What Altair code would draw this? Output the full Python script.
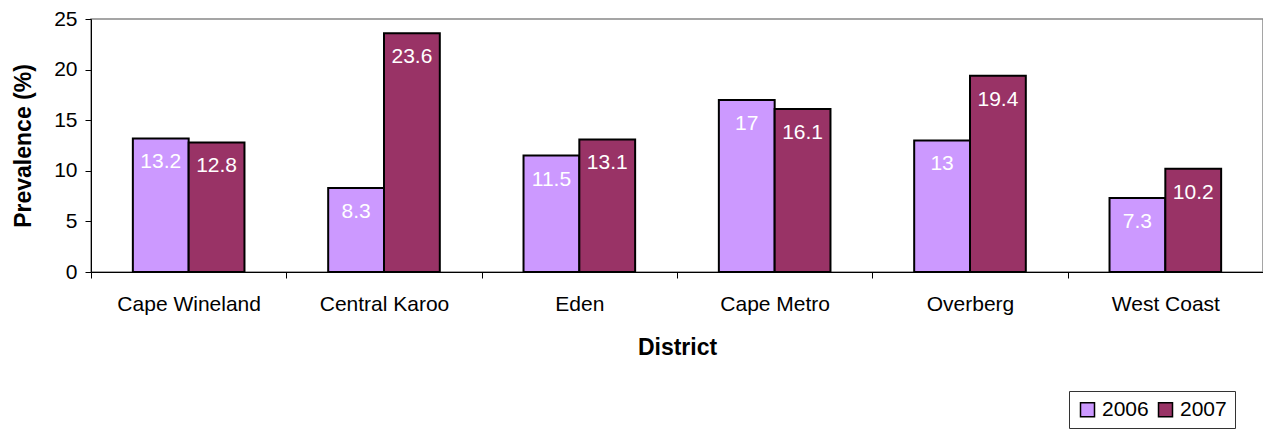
import altair as alt
import pandas as pd

districts = ["Cape Wineland", "Central Karoo", "Eden", "Cape Metro", "Overberg", "West Coast"]
years = ["2006", "2007"]
values_2006 = [13.2, 8.3, 11.5, 17, 13, 7.3]
values_2007 = [12.8, 23.6, 13.1, 16.1, 19.4, 10.2]
y_ticks = [0, 5, 10, 15, 20, 25]
colors = ["#CC99FF", "#993366"]

rows = []
for d, a, b in zip(districts, values_2006, values_2007):
    rows.append({"District": d, "Year": "2006", "Value": a})
    rows.append({"District": d, "Year": "2007", "Value": b})
df = pd.DataFrame(rows)

FONT = "Liberation Sans"

base = alt.Chart(df).encode(
    x=alt.X(
        "District:N",
        sort=districts,
        scale=alt.Scale(paddingInner=0, paddingOuter=0),
        axis=alt.Axis(
            title="District",
            labelAngle=0,
            tickBand="extent",
            labelFontSize=21,
            labelPadding=15,
            titleFontSize=23,
            titleFontWeight="bold",
            titlePadding=22,
            tickSize=6,
        ),
    ),
    xOffset=alt.XOffset(
        "Year:N",
        sort=years,
        scale=alt.Scale(paddingInner=0, paddingOuter=0.75),
    ),
    y=alt.Y(
        "Value:Q",
        scale=alt.Scale(domain=[0, 25], nice=False),
        axis=alt.Axis(
            title="Prevalence (%)",
            values=y_ticks,
            grid=False,
            labelFontSize=21,
            labelPadding=8,
            titleFontSize=23,
            titleFontWeight="bold",
            titlePadding=18,
            tickSize=6,
        ),
    ),
)

bars = base.mark_bar(stroke="black", strokeWidth=2).encode(
    color=alt.Color(
        "Year:N",
        sort=years,
        scale=alt.Scale(domain=years, range=colors),
        legend=alt.Legend(
            title=None,
            orient="none",
            direction="horizontal",
            legendX=978,
            legendY=372,
            symbolType="square",
            symbolSize=196,
            symbolStrokeColor="black",
            symbolStrokeWidth=1.5,
            labelFontSize=21,
            labelOffset=4,
            columnPadding=6,
            padding=8,
            strokeColor="#333333",
            fillColor="white",
        ),
    )
)

labels = base.mark_text(
    color="white", fontSize=21, baseline="middle", dy=24, font=FONT
).encode(text=alt.Text("Value:Q", format="~g"))

chart = (
    alt.layer(bars, labels)
    .properties(
        width=1172,
        height=253,
        autosize=alt.AutoSizeParams(type="none"),
        padding={"left": 83, "top": 11, "right": 0, "bottom": 161},
    )
    .configure(font=FONT)
    .configure_view(stroke="#888888", strokeWidth=1.5)
    .configure_axis(
        domainColor="black",
        tickColor="black",
        labelColor="black",
        titleColor="black",
        labelFont=FONT,
        titleFont=FONT,
    )
    .configure_legend(labelFont=FONT, labelColor="black")
)

chart.save("out.html", embed_options={"renderer": "svg", "actions": False})
